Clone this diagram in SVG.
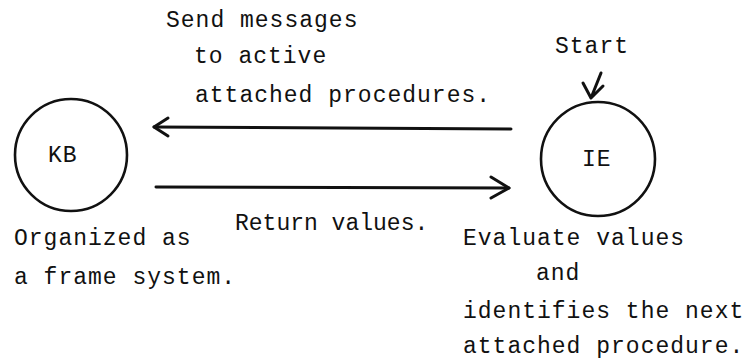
<svg xmlns="http://www.w3.org/2000/svg" width="746" height="364" viewBox="0 0 746 364">
  <style>
    text { font-family: "Liberation Mono", "DejaVu Sans Mono", monospace; font-size: 23px; letter-spacing: 1px; fill: #111; }
    .node { fill: none; stroke: #111; stroke-width: 2.6; }
    .conn { fill: none; stroke: #111; stroke-width: 3; stroke-linecap: round; stroke-linejoin: round; }
  </style>
  <rect width="746" height="364" fill="#fff"/>
  <g id="KB">
    <circle class="node" cx="71" cy="155" r="56"/>
    <text x="48" y="162">KB</text>
  </g>
  <g id="IE">
    <circle class="node" cx="598" cy="159" r="57"/>
    <text x="582" y="166">IE</text>
  </g>
  <g id="connectors">
    <path class="conn" d="M511,129 L154,127"/>
    <path class="conn" d="M168,118 L154,127 L168,136"/>
    <path class="conn" d="M156,187 L509,188"/>
    <path class="conn" d="M491,177 L509,188 L491,198"/>
    <path class="conn" d="M601,73 L591,98 M583,83 L591,98 L603,86" stroke-width="2.6"/>
  </g>
  <g id="labels">
    <text x="166" y="27">Send messages</text>
    <text x="194" y="63">to active</text>
    <text x="195" y="102">attached procedures.</text>
    <text x="555" y="53">Start</text>
    <text x="235" y="230" style="letter-spacing:0px">Return values.</text>
    <text x="14" y="245">Organized as</text>
    <text x="14" y="284">a frame system.</text>
    <text x="463" y="245">Evaluate values</text>
    <text x="536" y="280">and</text>
    <text x="463" y="318">identifies the next</text>
    <text x="463" y="353">attached procedure.</text>
  </g>
</svg>
